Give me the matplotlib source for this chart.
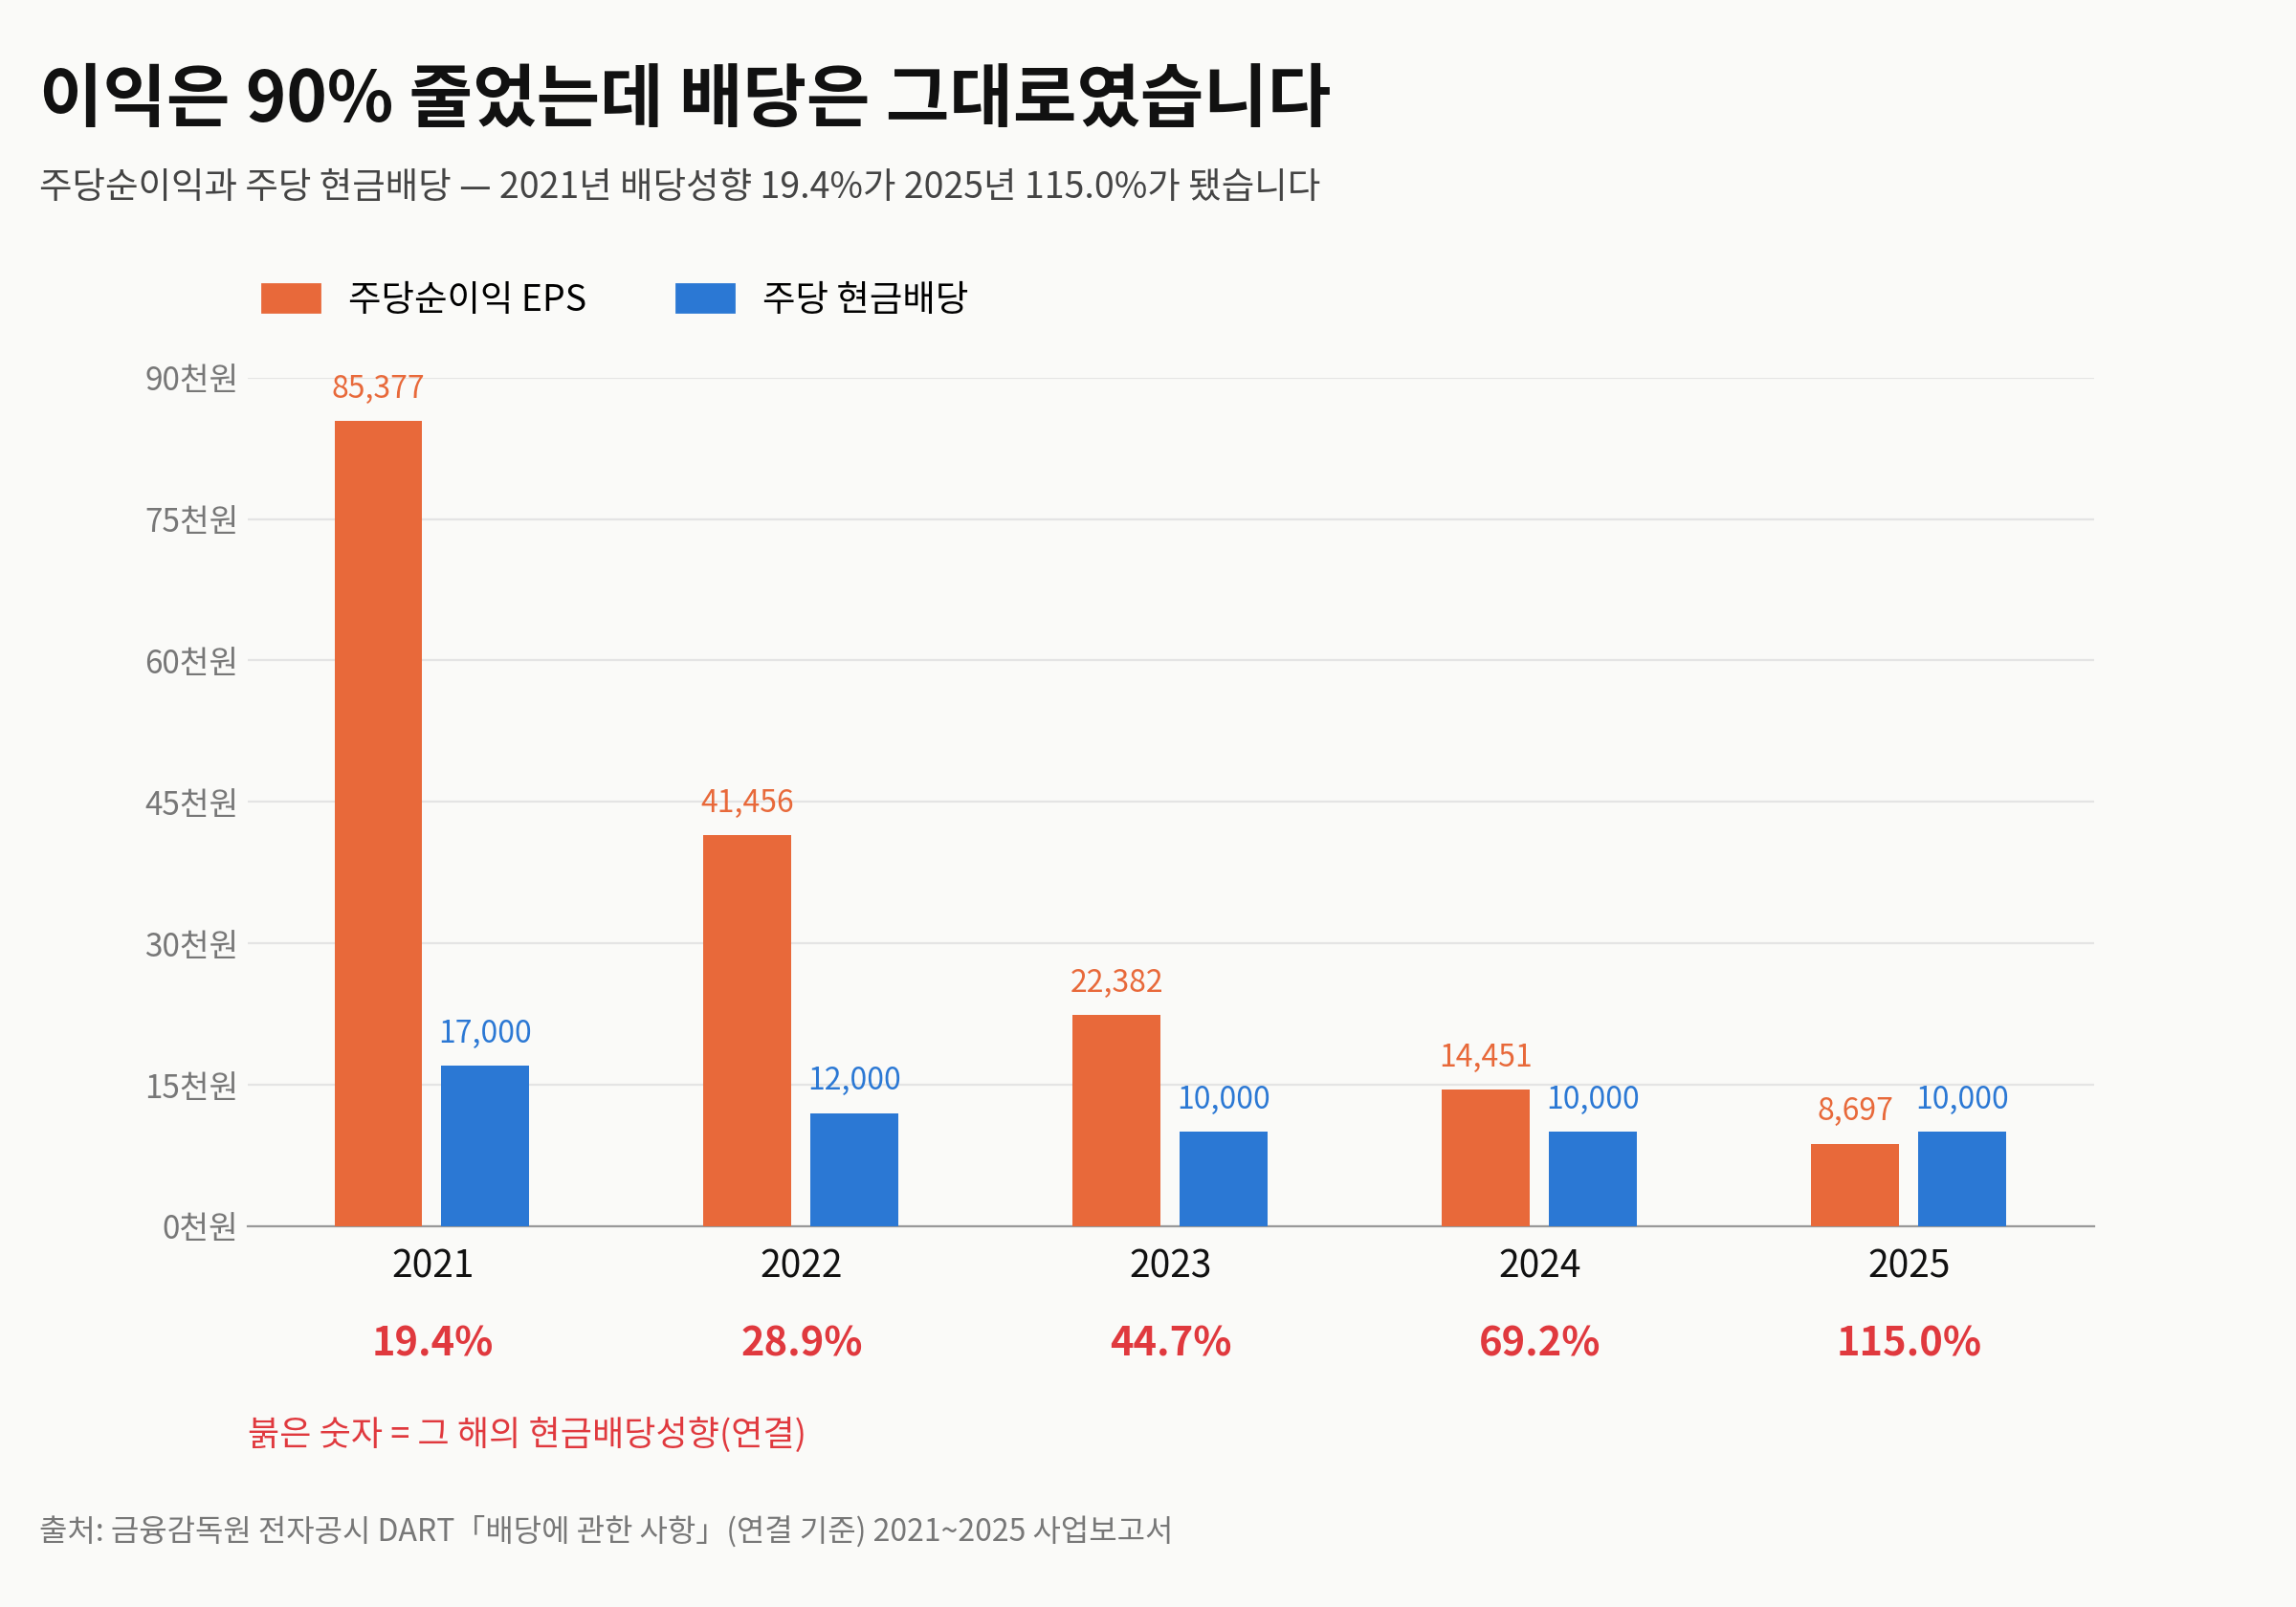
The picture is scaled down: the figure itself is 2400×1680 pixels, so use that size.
import numpy as np
import matplotlib.pyplot as plt
from matplotlib.patches import Patch

plt.rcParams['font.family'] = ['Noto Sans CJK KR', 'DejaVu Sans']

years = ['2021', '2022', '2023', '2024', '2025']
eps = [85377, 41456, 22382, 14451, 8697]
dividend = [17000, 12000, 10000, 10000, 10000]
payout = ['19.4%', '28.9%', '44.7%', '69.2%', '115.0%']
yticks = [0, 15000, 30000, 45000, 60000, 75000, 90000]

c_eps = '#E8693A'
c_div = '#2B78D4'
c_red = '#E0393E'
bg = '#FAFAF8'

fig = plt.figure(figsize=(12, 8.4), dpi=200, facecolor=bg)
ax = fig.add_axes([0.108, 0.237, 0.804, 0.528], facecolor=bg)

x = np.arange(len(years))
w = 0.238
b1 = ax.bar(x - 0.147, eps, w, color=c_eps, zorder=3)
b2 = ax.bar(x + 0.143, dividend, w, color=c_div, zorder=3)
for r, v in zip(b1, eps):
    ax.text(r.get_x() + r.get_width() / 2, v + 1800, f'{v:,}', ha='center', va='bottom',
            color=c_eps, fontsize=11.5)
for r, v in zip(b2, dividend):
    ax.text(r.get_x() + r.get_width() / 2, v + 1800, f'{v:,}', ha='center', va='bottom',
            color=c_div, fontsize=11.5)

ax.set_xlim(-0.5, 4.5)
ax.set_ylim(0, 90000)
ax.set_yticks(yticks)
ax.set_yticklabels([f'{t // 1000}천원' for t in yticks], color='#777777', fontsize=12)
ax.set_xticks(x)
ax.set_xticklabels(years, fontsize=14, color='#111111')
ax.tick_params(axis='both', length=0)
ax.tick_params(axis='x', pad=8)
ax.grid(axis='y', color='#E4E4E4', linewidth=0.8, zorder=0)
for s in ['top', 'right', 'left']:
    ax.spines[s].set_visible(False)
ax.spines['bottom'].set_color('#999999')

for xi, p in zip(x, payout):
    ax.text(xi, -12500, p, ha='center', va='center', color=c_red, fontsize=15,
            fontweight='bold', transform=ax.transData)

fig.text(0.108, 0.107 + 0.0, '붉은 숫자 = 그 해의 현금배당성향(연결)', color=c_red, fontsize=13,
         va='center')
fig.text(0.017, 0.937, '이익은 90% 줄었는데 배당은 그대로였습니다', fontsize=26, fontweight='bold',
         color='#111111', va='center')
fig.text(0.017, 0.883, '주당순이익과 주당 현금배당 — 2021년 배당성향 19.4%가 2025년 115.0%가 됐습니다',
         fontsize=13.5, color='#444444', va='center')
fig.text(0.017, 0.047, '출처: 금융감독원 전자공시 DART「배당에 관한 사항」(연결 기준) 2021~2025 사업보고서',
         fontsize=11.5, color='#777777', va='center')

handles = [Patch(color=c_eps, label='주당순이익 EPS'), Patch(color=c_div, label='주당 현금배당')]
fig.legend(handles=handles, loc='center left', bbox_to_anchor=(0.1, 0.813), ncol=2, frameon=False,
           fontsize=13.5, handlelength=1.6, handleheight=0.8, columnspacing=2.5)

fig.savefig('out.png', dpi=200, facecolor=bg)
